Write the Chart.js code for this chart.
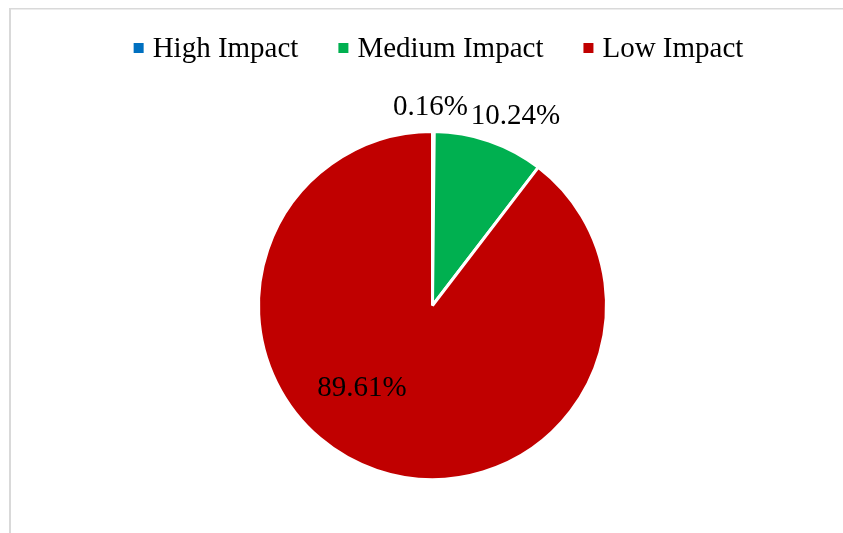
<!DOCTYPE html>
<html>
<head>
<meta charset="utf-8">
<script src="https://cdn.jsdelivr.net/npm/chart.js@4/dist/chart.umd.min.js"></script>
<style>
  html, body { margin: 0; padding: 0; background: #fff; }
  #wrap { position: relative; width: 843px; height: 533px; overflow: hidden; }
  canvas { position: absolute; left: 0; top: 0; }
</style>
</head>
<body>
<div id="wrap"><canvas id="c" width="843" height="533"></canvas></div>
<script>
// Share of items by impact level (percent)
const categories = ['High Impact', 'Medium Impact', 'Low Impact'];
const shares = [0.16, 10.24, 89.61];
const sliceColors = ['#0070C0', '#00B050', '#C00000'];

const FONT = '"Liberation Serif", "Times New Roman", serif';

// Frame lines of the chart panel
const framePlugin = {
  id: 'frame',
  beforeDraw(chart) {
    const ctx = chart.ctx;
    ctx.save();
    ctx.fillStyle = '#ffffff';
    ctx.fillRect(0, 0, chart.width, chart.height);
    ctx.fillStyle = '#d9d9d9';
    ctx.fillRect(9, 8, 2, chart.height);
    ctx.fillRect(9, 8, chart.width, 1.5);
    ctx.restore();
  }
};

// Horizontal legend row above the pie
const legendPlugin = {
  id: 'rowLegend',
  afterDraw(chart) {
    const ctx = chart.ctx;
    const box = 10, boxGap = 9, itemGap = 40, baseY = 57, centerX = 438.5;
    ctx.save();
    ctx.font = '29px ' + FONT;
    const widths = categories.map(t => ctx.measureText(t).width);
    const total = widths.reduce((a, w) => a + box + boxGap + w, 0) + itemGap * (categories.length - 1);
    let x = centerX - total / 2;
    categories.forEach((t, i) => {
      ctx.fillStyle = sliceColors[i];
      ctx.fillRect(x, 43, box, box);
      ctx.fillStyle = '#000000';
      ctx.textBaseline = 'alphabetic';
      ctx.textAlign = 'left';
      ctx.fillText(t, x + box + boxGap, baseY);
      x += box + boxGap + widths[i] + itemGap;
    });
    ctx.restore();
  }
};

// Percentage labels placed from each slice's mid-angle
const labelPlacement = [
  { rf: 1.145, dx: -3, dy: 9 },
  { rf: 1.165, dx: 17, dy: 10 },
  { rf: 0.60, dx: -37, dy: -8 }
];
const valueLabelPlugin = {
  id: 'valueLabels',
  afterDatasetsDraw(chart) {
    const ctx = chart.ctx;
    const meta = chart.getDatasetMeta(0);
    ctx.save();
    ctx.font = '29px ' + FONT;
    ctx.fillStyle = '#000000';
    ctx.textAlign = 'center';
    ctx.textBaseline = 'alphabetic';
    meta.data.forEach((arc, i) => {
      const p = arc.getProps(['x', 'y', 'startAngle', 'endAngle', 'outerRadius'], true);
      const mid = (p.startAngle + p.endAngle) / 2;
      const r = p.outerRadius * labelPlacement[i].rf;
      const lx = p.x + Math.cos(mid) * r + labelPlacement[i].dx;
      const ly = p.y + Math.sin(mid) * r + labelPlacement[i].dy;
      ctx.fillText(shares[i].toFixed(2) + '%', lx, ly);
    });
    ctx.restore();
  }
};

new Chart(document.getElementById('c'), {
  type: 'pie',
  data: {
    labels: categories,
    datasets: [{
      data: shares,
      backgroundColor: sliceColors,
      borderColor: '#ffffff',
      borderWidth: 3,
      radius: 174
    }]
  },
  options: {
    responsive: false,
    animation: false,
    events: [],
    layout: { padding: { left: 22, top: 78, right: 0, bottom: 0 } },
    plugins: {
      legend: { display: false },
      tooltip: { enabled: false }
    }
  },
  plugins: [framePlugin, legendPlugin, valueLabelPlugin]
});
</script>
</body>
</html>
